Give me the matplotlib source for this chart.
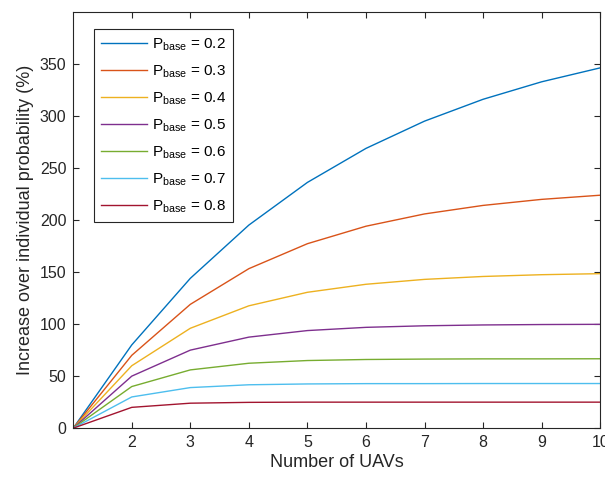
import matplotlib
matplotlib.use("Agg")
import matplotlib.pyplot as plt

plt.rcParams["font.family"] = ["Liberation Sans", "DejaVu Sans"]
plt.rcParams["mathtext.fontset"] = "custom"
plt.rcParams["mathtext.rm"] = "Liberation Sans"

n_uavs = [1, 2, 3, 4, 5, 6, 7, 8, 9, 10]
p_base = ["0.2", "0.3", "0.4", "0.5", "0.6", "0.7", "0.8"]

inc_02 = [0, 80, 144, 195.2, 236.2, 268.9, 295.1, 316.1, 332.9, 346.3]
inc_03 = [0, 70, 119, 153.3, 177.3, 194.1, 205.9, 214.1, 219.9, 223.9]
inc_04 = [0, 60, 96, 117.6, 130.6, 138.3, 143.0, 145.8, 147.5, 148.5]
inc_05 = [0, 50, 75, 87.5, 93.8, 96.9, 98.4, 99.2, 99.6, 99.8]
inc_06 = [0, 40, 56, 62.4, 65.0, 66.0, 66.4, 66.6, 66.6, 66.7]
inc_07 = [0, 30, 39, 41.7, 42.5, 42.8, 42.8, 42.9, 42.9, 42.9]
inc_08 = [0, 20, 24, 24.8, 25.0, 25.0, 25.0, 25.0, 25.0, 25.0]
series = [inc_02, inc_03, inc_04, inc_05, inc_06, inc_07, inc_08]

# couleurs par defaut de MATLAB
colors = ["#0072BD", "#D95319", "#EDB120", "#7E2F8E", "#77AC30", "#4DBEEE", "#A2142F"]

fig = plt.figure(figsize=(6.05, 4.8), dpi=100)
ax = fig.add_axes([0.121, 0.108, 0.871, 0.867])

for vals, p, c in zip(series, p_base, colors):
    ax.plot(n_uavs, vals, color=c, linewidth=1.0, label="P$_{\\mathrm{base}}$ = " + p)

ax.set_xlim(1, 10)
ax.set_ylim(0, 400)
ax.set_xticks(range(2, 11))
ax.set_yticks(range(0, 351, 50))
ax.tick_params(direction="in", top=True, right=True, labelsize=11.5,
               colors="#262626", length=4, width=0.8, pad=5)
for s in ax.spines.values():
    s.set_color("#262626")
    s.set_linewidth(0.8)

ax.set_xlabel("Number of UAVs", fontsize=13, color="#262626", labelpad=3)
ax.set_ylabel("Increase over individual probability (%)", fontsize=13, color="#262626")

leg = ax.legend(loc="upper left", bbox_to_anchor=(0.040, 0.959), borderaxespad=0,
                fancybox=False, edgecolor="#262626", framealpha=1, fontsize=11,
                handlelength=3.0, handletextpad=0.35, labelspacing=0.68,
                borderpad=0.45)
leg.get_frame().set_linewidth(0.8)

fig.savefig("out.png", dpi=100)
